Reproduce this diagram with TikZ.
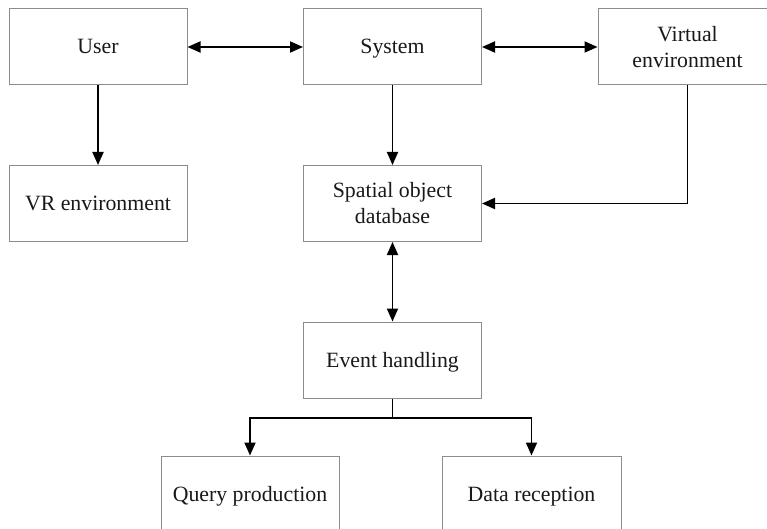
\documentclass[tikz,border=0pt]{standalone}
\usepackage{fontspec}
\setmainfont{Liberation Serif}
\usetikzlibrary{arrows.meta}
\begin{document}
\begin{tikzpicture}[x=1pt,y=-1pt,
  box/.style={draw=black!45,line width=1pt,minimum width=178pt,minimum height=76pt,inner sep=0pt,align=center,
    font=\fontsize{21.8}{26}\selectfont,text=black!90},
  one/.style={text height=17pt,text depth=3pt},
  conn/.style={line width=1.9pt,-{Triangle[length=13pt,width=11pt]}},
  bconn/.style={line width=1.9pt,{Triangle[length=13pt,width=11pt]}-{Triangle[length=13pt,width=11pt]}}]
\useasboundingbox (0,0) rectangle (767,529);
\clip (0,0) rectangle (767,529);
\fill[white] (0,0) rectangle (767,529);
\node[box,one] (user) at (98,47) {User};
\node[box,one] (sys) at (392.5,47) {System};
\node[box,minimum width=179pt] (virt) at (687.5,47) {Virtual\\environment};
\node[box,one] (vr) at (98,203.5) {VR environment};
\node[box] (sod) at (392.5,203.5) {Spatial object\\database};
\node[box,one] (ev) at (392.5,360) {Event handling};
\node[box,one] (qp) at (250,494) {Query production};
\node[box,one,minimum width=179pt] (dr) at (531.5,494) {Data reception};
\coordinate (split) at (392.5,418);
\draw[bconn] (user) -- (sys);
\draw[bconn] (sys) -- (virt);
\draw[conn] (user) -- (vr);
\draw[conn] (sys) -- (sod);
\draw[conn] (virt.south) |- (sod.east);
\draw[bconn] (sod) -- (ev);
\draw[line width=1.9pt] (ev.south) -- (split);
\draw[conn] (split) -| (qp.north);
\draw[conn] (split) -| (dr.north);
\end{tikzpicture}
\end{document}
